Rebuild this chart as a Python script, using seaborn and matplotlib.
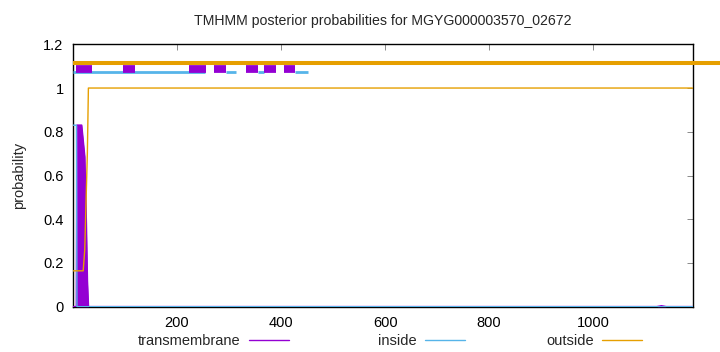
import matplotlib
matplotlib.use("Agg")
import matplotlib.pyplot as plt
import matplotlib.ticker as mticker
import seaborn as sns
import pandas as pd

# ---- data ----
seq_len = 1191
title = "TMHMM posterior probabilities for MGYG000003570_02672"
series_names = ["transmembrane", "inside", "outside"]

tm_res = [1, 7, 8, 17, 23, 26, 28, 30, 1122, 1131, 1140, 1191]
tm_prob = [0, 0, 0.83, 0.83, 0.685, 0.38, 0.12, 0, 0, 0.004, 0, 0]

inside_res = [1, 7, 8, 1191]
inside_prob = [0.83, 0.83, 0, 0]

outside_res = [1, 20, 23, 25, 28, 30, 1191]
outside_prob = [0.164, 0.164, 0.26, 0.44, 0.70, 1.0, 1.0]

# topology bars at the top
outside_bar_start = [1]
outside_bar_end = [1243]
inside_bar_start = [1, 294, 355, 427]
inside_bar_end = [254, 313, 368, 452]
tm_bar_start = [6, 97, 223, 272, 333, 368, 405]
tm_bar_end = [36, 119, 256, 294, 355, 390, 427]

xticks = [200, 400, 600, 800, 1000]
yticks = [0, 0.2, 0.4, 0.6, 0.8, 1.0, 1.2]

# ---- style ----
sns.set_theme(style="white")
plt.rcParams["font.family"] = ["Liberation Sans", "DejaVu Sans"]
plt.rcParams["font.size"] = 10.5

c_tm = "#9400D3"
c_in = "#56B4E9"
c_out = "#E69F00"

fig = plt.figure(figsize=(7.2, 3.52), dpi=100)
ax = fig.add_axes([73.3 / 720, 1 - 306.7 / 352, (692.7 - 73.3) / 720, (306.7 - 44.3) / 352])

df_tm = pd.DataFrame({"residue": tm_res, "prob": tm_prob})
df_in = pd.DataFrame({"residue": inside_res, "prob": inside_prob})
df_out = pd.DataFrame({"residue": outside_res, "prob": outside_prob})

ax.fill_between(df_tm["residue"], 0, df_tm["prob"], color=c_tm, linewidth=0, zorder=3)
l_tm = sns.lineplot(data=df_tm, x="residue", y="prob", ax=ax, color=c_tm, linewidth=1.2,
                    estimator=None, sort=False, zorder=3).lines[-1]
l_in = sns.lineplot(data=df_in, x="residue", y="prob", ax=ax, color=c_in, linewidth=1.0,
                    estimator=None, sort=False, zorder=4).lines[-1]
l_out = sns.lineplot(data=df_out, x="residue", y="prob", ax=ax, color=c_out, linewidth=1.0,
                     estimator=None, sort=False, zorder=4).lines[-1]

# topology bars
ax.hlines([1.074] * len(inside_bar_start), inside_bar_start, inside_bar_end, color=c_in,
          linewidth=2.0, capstyle="butt", zorder=5, clip_on=False)
ax.hlines([1.086] * len(tm_bar_start), tm_bar_start, tm_bar_end, color=c_tm,
          linewidth=5.6, capstyle="butt", zorder=6, clip_on=False)
ax.hlines([1.113] * len(outside_bar_start), outside_bar_start, outside_bar_end, color=c_out,
          linewidth=2.9, capstyle="butt", zorder=7, clip_on=False)

ax.set_xlim(1, seq_len)
ax.set_ylim(0, 1.2)
ax.set_xticks(xticks)
ax.set_yticks(yticks)
ax.yaxis.set_major_formatter(mticker.FuncFormatter(lambda v, p: "%g" % v))
ax.tick_params(direction="in", length=4, width=0.6, color="#777777", top=True, right=True,
               labelsize=10.5, pad=7, labelcolor="black")
for s in ax.spines.values():
    s.set_color("black")
    s.set_linewidth(1.0)
ax.set_xlabel("")
ax.set_ylabel("probability", fontsize=10.5, labelpad=12)
ax.set_title(title, fontsize=10.2, pad=14)

# legend: three single-entry legends (text then sample line)
handles = [l_tm, l_in, l_out]
line_ends = [289, 465, 642]
for h, name, xe in zip(handles, series_names, line_ends):
    lg = fig.legend([h], [name], loc="center right", bbox_to_anchor=(xe / 720, 1 - 341 / 352),
                    frameon=False, markerfirst=False, handlelength=2.75, handletextpad=0.55,
                    borderpad=0, borderaxespad=0, fontsize=10.5)
    for ln in lg.get_lines():
        ln.set_linewidth(1.0)

fig.savefig("out.png", dpi=100)
